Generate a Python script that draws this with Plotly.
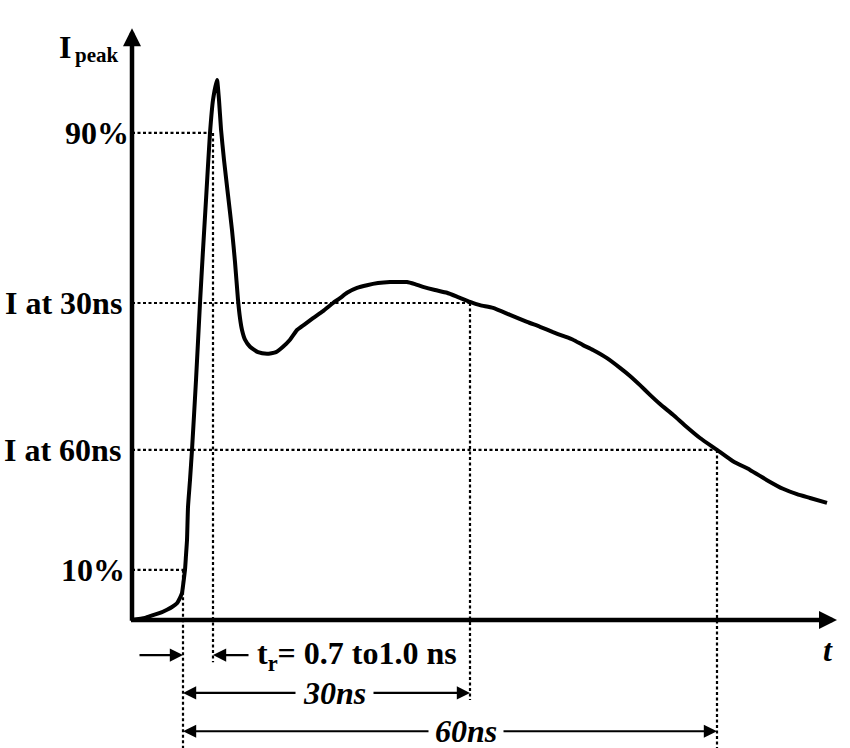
import plotly.graph_objects as go

# ---- data (time in schematic units, current in % of Ipeak)
t_curve = [0.0, 1.3, 2.1, 2.8, 3.5, 4.0, 4.5, 4.8, 5.0, 5.1, 5.2, 5.3, 5.4, 5.5, 5.6, 5.8,
           6.0, 6.4, 6.8, 7.1, 7.4, 7.8, 8.1, 8.5, 8.7, 8.9, 9.2, 9.6, 10.0, 10.3, 10.6, 10.8,
           11.0, 11.3, 11.8, 12.6, 13.5, 14.4, 15.1, 15.8, 16.5, 17.3, 18.1, 19.1, 20.1,
           20.8, 21.5, 22.5, 23.5, 24.6, 25.8, 26.8, 27.5, 28.3, 29.1, 30.3, 31.5, 32.6,
           33.8, 34.8, 36.1, 37.8, 39.5, 40.8, 42.1, 43.1, 44.1, 45.1, 46.1, 47.5, 48.8,
           49.8, 50.8, 51.8, 52.8, 54.1, 55.5, 56.8, 58.5, 60.1, 61.8, 63.5, 65.1, 66.5,
           67.8, 69.5]
i_curve = [0.0, 0.4, 0.9, 1.3, 1.9, 2.4, 3.1, 4.1, 5.0, 6.3, 7.8, 9.3, 12.0, 14.8, 20.9, 25.9,
           31.5, 44.4, 58.7, 68.5, 77.8, 90.2, 96.3, 100.0, 96.3, 90.9, 85.2, 78.7, 72.2, 66.3, 59.3, 55.9,
           53.7, 51.9, 50.6, 49.6, 49.3, 49.6, 50.6, 51.9, 53.7, 54.8, 55.9, 57.2, 58.7,
           59.6, 60.6, 61.5, 62.0, 62.4, 62.6, 62.6, 62.6, 62.2, 61.7, 61.1, 60.6, 59.8,
           58.9, 58.3, 57.8, 56.5, 55.2, 54.3, 53.3, 52.6, 51.9, 50.9, 50.0, 48.5, 46.7,
           45.2, 43.5, 41.7, 40.0, 38.0, 35.7, 33.7, 31.5, 29.4, 27.8, 25.9, 24.3, 23.3,
           22.6, 21.7]

level_labels = ["90%", "I at 30ns", "I at 60ns", "10%"]
level_values = [90.2, 58.7, 31.5, 9.3]
level_times = [8.1, 33.8, 58.5, 5.1]          # where each level meets the curve
label_right = [-0.15, -0.8, -0.9, -0.55]        # right edge of each level label

mark_times = [5.1, 8.1, 33.8, 58.5]             # t10, t90, t(30ns), t(60ns)
mark_tops = [9.3, 90.2, 58.7, 31.5]
mark_bottoms = [-23.7, -7.8, -14.8, -23.7]

row_tr, row_30, row_60 = -6.5, -13.5, -20.6
t_axis_end, i_axis_end = 70.5, 109.6

FONT = "Liberation Serif"
fig = go.Figure()
fig.add_trace(go.Scatter(x=t_curve, y=i_curve, mode="lines",
                         line=dict(color="black", width=4, shape="spline", smoothing=0.5),
                         hoverinfo="skip"))

dot = dict(color="black", width=2.2, dash="3px,2.5px")
for lv, lt in zip(level_values, level_times):
    fig.add_shape(type="line", x0=0, x1=lt, y0=lv, y1=lv, line=dot, layer="below")
for mt, top, bot in zip(mark_times, mark_tops, mark_bottoms):
    fig.add_shape(type="line", x0=mt, x1=mt, y0=top, y1=bot, line=dot, layer="below")

def arrow(x_tail, y_tail, x_head, y_head, width, size):
    fig.add_annotation(x=x_head, y=y_head, ax=x_tail, ay=y_tail, xref="x", yref="y",
                       axref="x", ayref="y", text="", showarrow=True, arrowhead=2,
                       arrowwidth=width, arrowsize=size, arrowcolor="black")

# axes
arrow(0, -0.4, 0, i_axis_end, 4.5, 0.8)
arrow(-0.25, 0, t_axis_end, 0, 4.5, 0.8)

# dimension arrows
arrow(0.6, row_tr, mark_times[0], row_tr, 2.2, 1.2)
arrow(11.8, row_tr, mark_times[1], row_tr, 2.2, 1.2)
arrow(16.5, row_30, mark_times[0], row_30, 2.2, 1.2)
arrow(24.0, row_30, mark_times[2], row_30, 2.2, 1.2)
arrow(29.8, row_60, mark_times[0], row_60, 2.2, 1.2)
arrow(37.0, row_60, mark_times[3], row_60, 2.2, 1.2)

def label(x, y, text, size=32, anchor="center", italic=False):
    fig.add_annotation(x=x, y=y, xref="x", yref="y", text=text, showarrow=False,
                       xanchor=anchor, yanchor="middle",
                       font=dict(family=FONT, size=size, color="black",
                                 weight="bold", style="italic" if italic else "normal"))

for txt, lv, xr in zip(level_labels, level_values, label_right):
    label(xr, lv, txt, anchor="right")

label(-5.9, 106.2, "I", anchor="right")
label(-5.9, 104.6, "peak", size=21, anchor="left")
label(12.3, row_tr, "t<sub>r</sub>= 0.7 to1.0 ns", size=32, anchor="left")
label(20.2, row_30, "30ns", italic=True)
label(33.4, row_60, "60ns", italic=True)
label(69.6, -5.6, "t", italic=True)

fig.update_layout(width=850, height=748, margin=dict(l=0, r=0, t=0, b=0),
                  paper_bgcolor="white", plot_bgcolor="white", showlegend=False,
                  xaxis=dict(visible=False, range=[-13.2, 71.8]),
                  yaxis=dict(visible=False, range=[-23.70, 114.81]))
fig.write_html("out.html")
